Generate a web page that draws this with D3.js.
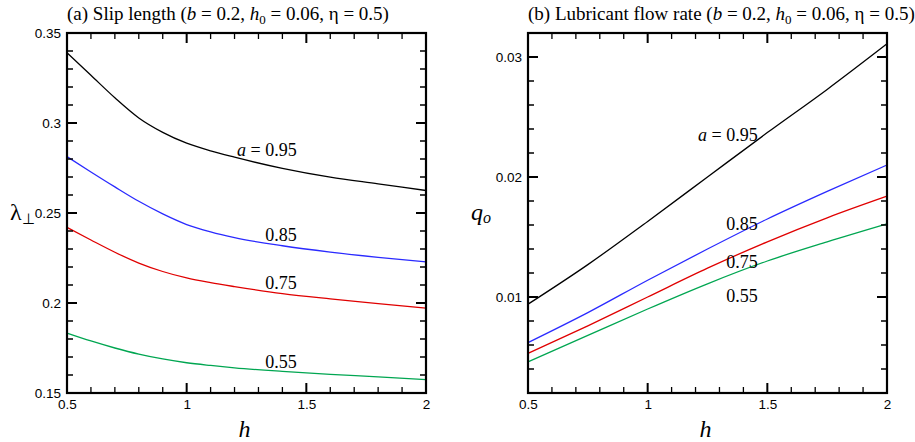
<!DOCTYPE html>
<html>
<head>
<meta charset="utf-8">
<script src="https://cdn.jsdelivr.net/npm/d3@7"></script>
<style>
  body { margin: 0; background: #fff; }
</style>
</head>
<body>
<svg id="chart" width="915" height="442"></svg>
<script>
// ---- data ----
// (a) slip length, lambda_perp vs h
const hSlip = [0.5, 0.6, 0.7, 0.8, 0.9, 1.0, 1.1, 1.2, 1.4, 1.6, 1.8, 2.0];
const slip095 = [0.339, 0.3265, 0.314, 0.3028, 0.2948, 0.2888, 0.2845, 0.2810, 0.2748, 0.2699, 0.2662, 0.2625];
const slip085 = [0.2813, 0.2728, 0.2645, 0.2565, 0.2495, 0.2436, 0.2395, 0.2363, 0.2318, 0.2283, 0.2254, 0.2229];
const slip075 = [0.242, 0.2350, 0.2282, 0.2222, 0.2175, 0.2139, 0.2113, 0.2091, 0.2052, 0.2023, 0.1997, 0.1971];
const slip055 = [0.1833, 0.1789, 0.1750, 0.1716, 0.1689, 0.1668, 0.1653, 0.1640, 0.1620, 0.1603, 0.1590, 0.1574];

// (b) lubricant flow rate, q_o vs h
const hFlow = [0.5, 0.75, 1.0, 1.25, 1.5, 1.75, 2.0];
const flow095 = [0.0094, 0.0127, 0.0163, 0.0200, 0.0237, 0.0273, 0.0311];
const flow085 = [0.0062, 0.0087, 0.0114, 0.0140, 0.0165, 0.0188, 0.0210];
const flow075 = [0.0053, 0.0076, 0.0100, 0.0124, 0.0146, 0.0166, 0.0184];
const flow055 = [0.0046, 0.0068, 0.0090, 0.0111, 0.0130, 0.0146, 0.0161];

const aValues = ["0.95", "0.85", "0.75", "0.55"];
const colors = ["#000000", "#2a2aff", "#e00000", "#00a651"];

const xTicks = [0.5, 1, 1.5, 2];
const slipTicks = [0.15, 0.2, 0.25, 0.3, 0.35];
const flowTicks = [0.01, 0.02, 0.03];

// ---- layout ----
const serif = "'Liberation Serif', 'Times New Roman', serif";
const sans = "'Liberation Sans', Arial, Helvetica, sans-serif";
const plotTop = 33, plotBottom = 393;
const majorLen = 10, minorLen = 6;

const svg = d3.select("#chart");

function drawPanel(o) {
  const x = d3.scaleLinear().domain([0.5, 2]).range([o.x0, o.x1]);
  const y = d3.scaleLinear().domain(o.yDomain).range([plotBottom, plotTop]);
  const g = svg.append("g");

  // curves
  const line = d3.line().x(d => x(d[0])).y(d => y(d[1])).curve(d3.curveMonotoneX);
  o.series.forEach((s, i) => {
    g.append("path")
      .datum(o.h.map((h, j) => [h, s[j]]))
      .attr("d", line)
      .attr("fill", "none")
      .attr("stroke", colors[i])
      .attr("stroke-width", 1.3);
  });

  // curve labels, right aligned
  o.labels.forEach((p, i) => {
    const t = g.append("text")
      .attr("x", x(p[0]))
      .attr("y", y(p[1]))
      .attr("text-anchor", "end")
      .attr("font-family", serif)
      .attr("font-size", 18);
    if (i === 0) {
      t.append("tspan").attr("font-style", "italic").text("a");
      t.append("tspan").text(" = " + aValues[i]);
    } else {
      t.text(aValues[i]);
    }
  });

  // tick labels from d3 axes
  function labels(fn, scale, values, tr) {
    const ax = g.append("g").attr("transform", tr)
      .call(fn(scale).tickValues(values).tickSize(0).tickPadding(5).tickFormat(d => String(d)));
    ax.select(".domain").remove();
    ax.selectAll(".tick line").remove();
    ax.attr("font-family", sans).attr("font-size", 13.5);
    ax.selectAll("text").attr("fill", "#000");
  }
  labels(d3.axisBottom, x, xTicks, `translate(0,${plotBottom + 1})`);
  labels(d3.axisLeft, y, o.yTicks, `translate(${o.x0 - 1},0)`);

  // inward ticks on all four sides
  const xMinor = d3.range(5, 21).filter(k => k % 5).map(k => k / 10);
  function ticks(values, scale, len, vertical, width) {
    const d = values.map(v => {
      const p = scale(v);
      return vertical
        ? `M${o.x0},${p}h${len}M${o.x1},${p}h${-len}`
        : `M${p},${plotBottom}v${-len}M${p},${plotTop}v${len}`;
    }).join("");
    g.append("path").attr("d", d)
      .attr("fill", "none").attr("stroke", "#000").attr("stroke-width", width);
  }
  ticks(xTicks, x, majorLen, false, 2);
  ticks(xMinor, x, minorLen, false, 1.3);
  ticks(o.yTicks, y, majorLen, true, 2);
  ticks(o.yMinor, y, minorLen, true, 1.3);

  // frame
  g.append("rect")
    .attr("x", o.x0).attr("y", plotTop)
    .attr("width", o.x1 - o.x0).attr("height", plotBottom - plotTop)
    .attr("fill", "none").attr("stroke", "#000").attr("stroke-width", 2.2);

  // title
  const t = g.append("text")
    .attr("x", o.x0).attr("y", 20)
    .attr("font-family", serif).attr("font-size", 19);
  t.append("tspan").text(o.title + " (");
  t.append("tspan").attr("font-style", "italic").text("b");
  t.append("tspan").text(" = 0.2, ");
  t.append("tspan").attr("font-style", "italic").text("h");
  t.append("tspan").attr("font-size", 13).attr("dy", 4).text("0");
  t.append("tspan").attr("dy", -4).text(" = 0.06, η = 0.5)");

  // x title
  g.append("text")
    .attr("x", (o.x0 + o.x1) / 2 - 2).attr("y", 437)
    .attr("text-anchor", "middle")
    .attr("font-family", serif).attr("font-style", "italic").attr("font-size", 24)
    .text("h");

  // y title
  const yt = g.append("text")
    .attr("x", o.yTitleX).attr("y", 221)
    .attr("font-family", serif).attr("font-size", 24);
  o.yTitle(yt);
}

drawPanel({
  x0: 67, x1: 426,
  yDomain: [0.15, 0.35],
  yTicks: slipTicks,
  yMinor: d3.range(15, 36).filter(k => k % 5).map(k => k / 100),
  h: hSlip,
  series: [slip095, slip085, slip075, slip055],
  labels: [[1.46, 0.2817], [1.46, 0.2344], [1.46, 0.2078], [1.46, 0.1639]],
  title: "(a) Slip length",
  yTitleX: 10,
  yTitle: t => {
    t.attr("y", 220);
    t.append("tspan").text("λ");
    t.append("tspan").attr("font-size", 15).attr("dy", 4).text("⊥");
  }
});

drawPanel({
  x0: 528, x1: 887,
  yDomain: [0.002, 0.032],
  yTicks: flowTicks,
  yMinor: d3.range(2, 33, 2).filter(k => k % 10).map(k => k / 1000),
  h: hFlow,
  series: [flow095, flow085, flow075, flow055],
  labels: [[1.46, 0.023], [1.46, 0.01558], [1.46, 0.01242], [1.46, 0.00958]],
  title: "(b) Lubricant flow rate",
  yTitleX: 471,
  yTitle: t => {
    t.attr("y", 220).attr("font-style", "italic");
    t.append("tspan").text("q");
    t.append("tspan").attr("font-size", 16).attr("dy", 3).text("o");
  }
});
</script>
</body>
</html>
